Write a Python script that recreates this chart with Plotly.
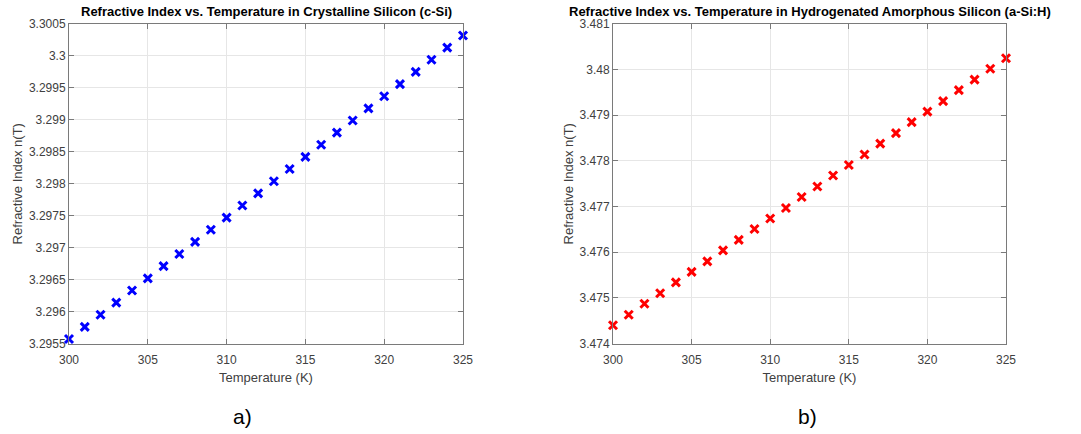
import plotly.graph_objects as go

# Temperature sweep (K)
temperature = [300, 301, 302, 303, 304, 305, 306, 307, 308, 309, 310, 311, 312,
               313, 314, 315, 316, 317, 318, 319, 320, 321, 322, 323, 324, 325]

# Refractive index of crystalline silicon (c-Si)
n_csi = [3.29557, 3.29576, 3.29595, 3.29614, 3.29633, 3.29652, 3.29671, 3.29690,
         3.29709, 3.29728, 3.29747, 3.29766, 3.29785, 3.29804, 3.29823, 3.29842,
         3.29861, 3.29880, 3.29899, 3.29918, 3.29937, 3.29956, 3.29975, 3.29994,
         3.30013, 3.30032]

# Refractive index of hydrogenated amorphous silicon (a-Si:H)
n_asih = [3.47440, 3.47463, 3.47487, 3.47510, 3.47534, 3.47557, 3.47580, 3.47604,
          3.47627, 3.47651, 3.47674, 3.47697, 3.47721, 3.47744, 3.47768, 3.47791,
          3.47814, 3.47838, 3.47861, 3.47885, 3.47908, 3.47931, 3.47955, 3.47978,
          3.48002, 3.48025]

x_ticks = [300, 305, 310, 315, 320, 325]
csi_yticks = [3.2955, 3.296, 3.2965, 3.297, 3.2975, 3.298, 3.2985, 3.299,
              3.2995, 3.3, 3.3005]
csi_ytext = ["3.2955", "3.296", "3.2965", "3.297", "3.2975", "3.298", "3.2985",
             "3.299", "3.2995", "3.3", "3.3005"]
asih_yticks = [3.474, 3.475, 3.476, 3.477, 3.478, 3.479, 3.48, 3.481]
asih_ytext = ["3.474", "3.475", "3.476", "3.477", "3.478", "3.479", "3.48", "3.481"]

titles = ["Refractive Index vs. Temperature in Crystalline Silicon (c-Si)",
          "Refractive Index vs. Temperature in Hydrogenated Amorphous Silicon (a-Si:H)"]
captions = ["a)", "b)"]

FONT = "Liberation Sans, Arial, sans-serif"
AXIS_COLOR = "#7a7a7a"
TICK_COLOR = "#404040"
GRID_COLOR = "#e6e6e6"

fig = go.Figure()

fig.add_trace(go.Scatter(
    x=temperature, y=n_csi, mode="markers", xaxis="x", yaxis="y",
    marker=dict(symbol="x-thin", size=8, line=dict(width=3, color="#0000ff")),
    showlegend=False, cliponaxis=False,
))
fig.add_trace(go.Scatter(
    x=temperature, y=n_asih, mode="markers", xaxis="x2", yaxis="y2",
    marker=dict(symbol="x-thin", size=8, line=dict(width=3, color="#ff0000")),
    showlegend=False, cliponaxis=False,
))

W, H = 1081, 434
left_dom = [69 / W, 463 / W]
right_dom = [613 / W, 1006 / W]
y_dom = [1 - 343.5 / H, 1 - 24 / H]


def xaxis_style(domain, anchor):
    return dict(
        domain=domain, anchor=anchor, range=[300, 325], automargin=False,
        tickvals=x_ticks, ticktext=[str(v) for v in x_ticks],
        showline=True, linecolor=AXIS_COLOR, linewidth=1, mirror="ticks",
        ticks="inside", ticklen=5, tickcolor=AXIS_COLOR, ticklabelstandoff=5,
        showgrid=True, gridcolor=GRID_COLOR, gridwidth=1, zeroline=False,
        tickfont=dict(family=FONT, size=12, color=TICK_COLOR),
        title=dict(text="Temperature (K)", standoff=6,
                   font=dict(family=FONT, size=13, color=TICK_COLOR)),
    )


def yaxis_style(rng, vals, text, anchor):
    return dict(
        domain=y_dom, anchor=anchor, range=rng, automargin=False,
        tickvals=vals, ticktext=text,
        showline=True, linecolor=AXIS_COLOR, linewidth=1, mirror="ticks",
        ticks="inside", ticklen=5, tickcolor=AXIS_COLOR,
        showgrid=True, gridcolor=GRID_COLOR, gridwidth=1, zeroline=False,
        tickfont=dict(family=FONT, size=12, color=TICK_COLOR),
        title=dict(text="Refractive Index n(T)", standoff=3,
                   font=dict(family=FONT, size=13, color=TICK_COLOR)),
    )


caption_x = [242, 807]
annotations = []
for dom, title, cap, cx_px in zip([left_dom, right_dom], titles, captions, caption_x):
    cx = (dom[0] + dom[1]) / 2
    annotations.append(dict(
        text="<b>" + title + "</b>", x=cx, y=1 - 11.5 / H, xref="paper", yref="paper",
        xanchor="center", yanchor="middle", showarrow=False,
        font=dict(family=FONT, size=13, color="#000000"),
    ))
    annotations.append(dict(
        text=cap, x=cx_px / W, y=1 - 416 / H, xref="paper", yref="paper",
        xanchor="center", yanchor="middle", showarrow=False,
        font=dict(family=FONT, size=21, color="#000000"),
    ))

fig.update_layout(
    width=W, height=H,
    margin=dict(l=0, r=0, t=0, b=0, autoexpand=False),
    paper_bgcolor="white", plot_bgcolor="white",
    xaxis=xaxis_style(left_dom, "y"),
    yaxis=yaxis_style([3.2955, 3.3005], csi_yticks, csi_ytext, "x"),
    xaxis2=xaxis_style(right_dom, "y2"),
    yaxis2=yaxis_style([3.474, 3.481], asih_yticks, asih_ytext, "x2"),
    annotations=annotations,
)

# remove the browser's default page margin so the figure sits at the origin
fig.write_html("out.html",
               post_script="document.body.style.margin='0';document.body.style.overflow='hidden';")
